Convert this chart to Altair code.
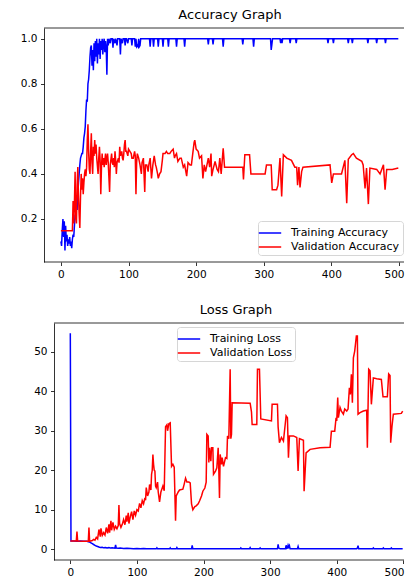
import altair as alt
import pandas as pd

# ---------------- data ----------------
x_ticks = [0, 100, 200, 300, 400, 500]
acc_ticks = [0.2, 0.4, 0.6, 0.8, 1.0]
loss_ticks = [0, 10, 20, 30, 40, 50]

train_acc = [
    (0, 0.10), (1, 0.08), (2, 0.15), (3, 0.20), (4, 0.12), (5, 0.19), (6, 0.06), (7, 0.17),
    (8, 0.10), (9, 0.13), (10, 0.08), (11, 0.11), (12, 0.09), (13, 0.12), (14, 0.08), (15, 0.10),
    (16, 0.07), (17, 0.11), (18, 0.13), (19, 0.12), (20, 0.17), (21, 0.22), (22, 0.20), (23, 0.27),
    (24, 0.24), (25, 0.31), (26, 0.36), (27, 0.40), (28, 0.44), (29, 0.47), (30, 0.48), (31, 0.49),
    (32, 0.49), (33, 0.52), (34, 0.56), (35, 0.58), (36, 0.61), (37, 0.68), (38, 0.73), (39, 0.72),
    (40, 0.80), (41, 0.82), (42, 0.86), (43, 0.92), (44, 0.96), (45, 0.97), (46, 0.88), (47, 0.95),
    (48, 0.86), (49, 0.98), (50, 0.90), (51, 0.99), (52, 0.92), (53, 1.00), (54, 0.89), (55, 0.98),
    (56, 0.93), (57, 1.00), (58, 0.91), (59, 0.99), (60, 0.95), (61, 1.00), (62, 0.93), (63, 0.98),
    (64, 1.00), (65, 0.94), (66, 0.99), (67, 0.96), (68, 0.84), (69, 1.00), (70, 0.97), (71, 1.00),
    (73, 0.98), (74, 1.00), (76, 1.00), (77, 0.96), (78, 1.00), (80, 0.98), (81, 1.00), (83, 0.97),
    (84, 1.00), (87, 1.00), (88, 0.93), (89, 1.00), (91, 0.98), (92, 1.00), (94, 1.00), (95, 0.97),
    (96, 1.00), (97, 1.00), (99, 0.98), (100, 1.00), (104, 1.00), (105, 0.97), (106, 1.00),
    (109, 1.00), (110, 0.965), (111, 1.00), (112, 0.965), (113, 0.97), (114, 0.965), (115, 1.00),
    (116, 0.965), (117, 0.97), (118, 1.00), (131, 1.00), (132, 0.965), (133, 1.00), (136, 1.00),
    (137, 0.965), (138, 1.00), (143, 1.00), (144, 0.965), (145, 1.00), (150, 1.00), (151, 0.965),
    (152, 1.00), (158, 1.00), (159, 0.965), (160, 1.00), (170, 1.00), (171, 0.965), (172, 1.00),
    (182, 1.00), (183, 0.965), (184, 1.00), (217, 1.00), (218, 0.975), (219, 1.00), (224, 1.00),
    (225, 0.975), (226, 1.00), (239, 1.00), (240, 0.965), (241, 1.00), (268, 1.00), (269, 0.975),
    (270, 1.00), (284, 1.00), (285, 0.965), (286, 1.00), (310, 1.00), (311, 0.95), (312, 0.975),
    (313, 1.00), (324, 1.00), (325, 0.98), (326, 1.00), (327, 0.98), (328, 1.00), (338, 1.00),
    (339, 0.98), (340, 1.00), (347, 1.00), (348, 0.98), (349, 1.00), (394, 1.00), (395, 0.98),
    (396, 1.00), (402, 1.00), (403, 0.98), (404, 1.00), (424, 1.00), (425, 0.98), (426, 1.00),
    (430, 1.00), (431, 0.98), (432, 1.00), (453, 1.00), (454, 0.98), (455, 1.00), (466, 1.00),
    (467, 0.98), (468, 1.00), (479, 1.00), (480, 0.98), (481, 1.00), (499, 1.00),
]

val_acc = [
    (0, 0.148), (17, 0.148), (18, 0.28), (19, 0.18), (20, 0.27), (21, 0.41), (22, 0.20), (23, 0.18),
    (24, 0.35), (25, 0.43), (26, 0.30), (27, 0.22), (28, 0.16), (29, 0.30), (30, 0.40), (31, 0.33),
    (32, 0.38), (33, 0.31), (34, 0.36), (35, 0.40), (36, 0.42), (37, 0.39), (38, 0.43), (39, 0.55),
    (40, 0.62), (41, 0.50), (42, 0.42), (43, 0.40), (44, 0.50), (45, 0.58), (46, 0.45), (47, 0.40),
    (48, 0.52), (49, 0.48), (50, 0.55), (51, 0.49), (52, 0.53), (53, 0.47), (55, 0.40), (56, 0.47),
    (57, 0.52), (58, 0.46), (59, 0.31), (60, 0.43), (61, 0.49), (62, 0.44), (63, 0.47), (64, 0.43),
    (65, 0.46), (66, 0.49), (67, 0.44), (68, 0.47), (69, 0.49), (70, 0.45), (72, 0.32), (73, 0.44),
    (75, 0.49), (76, 0.45), (77, 0.44), (78, 0.47), (79, 0.43), (80, 0.50), (81, 0.46), (82, 0.40),
    (83, 0.45), (85, 0.47), (86, 0.45), (87, 0.52), (88, 0.48), (90, 0.50), (91, 0.47), (92, 0.46),
    (93, 0.49), (94, 0.53), (95, 0.55), (96, 0.50), (97, 0.50), (99, 0.48), (100, 0.51), (102, 0.50),
    (104, 0.49), (105, 0.47), (107, 0.47), (109, 0.50), (110, 0.48), (111, 0.31), (112, 0.45),
    (113, 0.49), (115, 0.47), (117, 0.44), (119, 0.40), (120, 0.45), (122, 0.47), (124, 0.32),
    (125, 0.44), (127, 0.44), (129, 0.41), (130, 0.44), (132, 0.47), (134, 0.38), (136, 0.44),
    (138, 0.48), (140, 0.44), (141, 0.43), (143, 0.40), (144, 0.38), (146, 0.40), (148, 0.41),
    (150, 0.46), (151, 0.49), (154, 0.49), (156, 0.50), (158, 0.49), (161, 0.49), (163, 0.50),
    (166, 0.51), (168, 0.47), (169, 0.48), (171, 0.49), (173, 0.455), (176, 0.47), (178, 0.47),
    (181, 0.43), (183, 0.44), (186, 0.39), (188, 0.45), (191, 0.44), (193, 0.44), (195, 0.49),
    (197, 0.54), (198, 0.55), (200, 0.51), (203, 0.50), (205, 0.47), (208, 0.48), (210, 0.38),
    (212, 0.44), (214, 0.41), (216, 0.44), (218, 0.47), (220, 0.43), (222, 0.49), (223, 0.39),
    (225, 0.42), (228, 0.455), (231, 0.42), (233, 0.41), (235, 0.47), (237, 0.40), (240, 0.514),
    (242, 0.43), (269, 0.43), (270, 0.375), (272, 0.485), (279, 0.485), (281, 0.40), (302, 0.40),
    (304, 0.44), (311, 0.44), (312.5, 0.33), (319, 0.33), (321, 0.35), (324, 0.47), (326.5, 0.30),
    (329, 0.485), (334, 0.47), (341, 0.46), (346, 0.43), (348.7, 0.43), (350, 0.35), (352, 0.43),
    (353.6, 0.34), (356, 0.41), (358, 0.43), (398, 0.44), (400.5, 0.36), (403, 0.40), (415, 0.40),
    (420, 0.46), (422.7, 0.27), (425, 0.465), (430, 0.485), (432.5, 0.49), (437, 0.47), (445, 0.456),
    (447, 0.44), (449.8, 0.335), (452, 0.426), (454.7, 0.266), (457, 0.426), (467, 0.42), (472, 0.40),
    (477, 0.44), (479.4, 0.33), (481.8, 0.42), (490, 0.42), (499, 0.426),
]

train_loss = [
    (0, 54.7), (1, 2.1), (5, 2.1), (10, 2.0), (15, 2.1), (20, 2.0), (25, 2.0), (27, 1.9), (29, 1.8),
    (31, 1.6), (33, 1.4), (35, 1.2), (37, 1.0), (39, 0.8), (41, 0.7), (43, 0.55), (45, 0.45),
    (48, 0.5), (50, 0.35), (53, 0.45), (55, 0.3), (58, 0.4), (60, 0.3), (63, 0.35), (65, 0.3),
    (67, 0.25), (68, 1.1), (69, 0.3), (72, 0.25), (75, 0.3), (80, 0.2), (85, 0.25), (90, 0.2),
    (95, 0.15), (100, 0.2), (105, 0.15), (110, 0.2), (115, 0.15), (120, 0.1), (125, 0.15),
    (129, 0.1), (130, 0.35), (131, 0.1), (140, 0.1), (149, 0.1), (150, 0.35), (151, 0.1),
    (159, 0.1), (160, 0.4), (161, 0.1), (170, 0.1), (182, 0.1), (183, 1.0), (184, 0.1), (190, 0.1),
    (200, 0.1), (220, 0.1), (240, 0.1), (255, 0.1), (256, 0.3), (257, 0.1), (269, 0.1), (270, 0.4),
    (271, 0.1), (284, 0.1), (285, 0.3), (286, 0.1), (300, 0.1), (311, 0.1), (312, 1.2), (313, 0.3),
    (315, 0.1), (323, 0.1), (324, 1.0), (325, 0.2), (326, 0.3), (327, 1.0), (328, 0.5), (329, 0.9),
    (330, 0.1), (341, 0.1), (342, 0.7), (343, 0.1), (360, 0.1), (380, 0.1), (400, 0.1), (420, 0.1),
    (430, 0.1), (431, 0.3), (432, 0.9), (433, 0.1), (440, 0.1), (454, 0.1), (455, 0.3), (456, 0.1),
    (469, 0.1), (470, 0.3), (471, 0.1), (481, 0.1), (482, 0.3), (483, 0.1), (499, 0.1),
]

val_loss = [
    (0, 2.1), (9, 2.1), (10, 4.5), (11, 2.1), (20, 2.0), (27, 2.0), (28, 5.5), (29, 2.0), (33, 2.2),
    (35, 2.5), (37, 2.3), (39, 3.0), (41, 2.6), (43, 5.0), (45, 3.2), (46, 5.3), (48, 3.5), (50, 4.2),
    (52, 3.6), (54, 5.5), (56, 4.0), (58, 6.3), (59, 4.2), (61, 7.2), (62, 4.8), (64, 6.8), (66, 5.0),
    (68, 5.8), (70, 5.2), (72, 6.0), (73, 11.2), (74, 6.5), (76, 5.5), (78, 6.3), (80, 7.5), (82, 6.2),
    (84, 8.5), (85, 7.0), (87, 9.2), (88, 6.5), (90, 8.2), (92, 9.5), (94, 7.5), (96, 9.7), (98, 8.6),
    (100, 10.0), (102, 9.7), (104, 11.6), (106, 10.5), (108, 12.3), (110, 11.5), (112, 13.0),
    (113, 12.4), (114, 15.6), (116, 13.5), (118, 14.5), (119, 16.4), (121, 15.0), (122, 19.0),
    (123, 20.0), (124, 24.0), (125, 21.5), (126, 20.0), (127, 19.8), (128, 16.0), (129, 15.6),
    (131, 17.0), (132, 14.5), (134, 12.0), (136, 14.5), (137, 15.0), (139, 16.0), (141, 14.8),
    (143, 31.0), (145, 31.5), (146, 30.0), (148, 31.8), (150, 32.0), (152, 21.0), (154, 21.5),
    (156, 20.8), (158, 7.2), (159, 13.5), (162, 14.5), (164, 15.0), (169, 15.2), (171, 16.5),
    (173, 18.0), (175, 17.0), (178, 17.0), (180, 16.8), (182, 11.5), (184, 10.0), (187, 10.8),
    (189, 11.0), (192, 11.5), (194, 12.2), (197, 13.5), (199, 14.7), (202, 15.5), (204, 17.0),
    (205, 29.1), (207, 28.7), (208, 22.0), (209, 25.7), (211, 22.3), (212, 25.7), (214, 25.7),
    (215, 19.0), (218, 19.8), (220, 20.6), (222, 25.7), (223, 19.8), (224, 13.0), (225, 24.0),
    (227, 21.5), (228, 23.2), (230, 21.0), (233, 23.2), (235, 23.0), (236, 28.7), (238, 28.0),
    (240, 45.6), (241, 28.0), (242, 29.1), (243, 37.1), (270, 37.0), (272, 34.8), (273, 31.6),
    (280, 31.6), (281, 45.6), (284, 45.6), (286, 33.0), (302, 32.5), (303, 36.7), (311, 36.7),
    (312, 31.0), (314, 27.0), (317, 28.3), (320, 27.4), (324, 33.8), (326, 33.3), (327.5, 23.2),
    (329, 28.7), (335, 28.7), (340, 28.3), (342, 19.8), (344, 28.0), (350, 27.6), (351, 14.7),
    (354, 24.4), (360, 25.3), (375, 25.7), (390, 25.8), (392, 29.9), (397, 29.9), (399, 33.3),
    (400, 32.5), (401.5, 38.4), (402.5, 33.3), (405, 35.9), (407, 35.0), (410, 34.2), (412, 35.5),
    (415, 35.0), (417, 35.5), (419, 40.9), (420.5, 39.2), (422, 44.3), (423.5, 37.1), (425, 48.5),
    (427, 50.2), (429.5, 54.0), (431, 54.0), (432, 34.2), (435, 34.6), (440, 35.0), (445, 35.2),
    (446, 25.7), (448, 45.6), (450, 45.2), (452, 36.7), (455, 43.4), (460, 43.2), (467, 43.0),
    (469.5, 38.6), (476, 38.6), (478, 44.4), (480, 44.0), (481, 27.0), (483, 31.2), (485, 34.2),
    (497, 34.4), (499, 35.0),
]

acc_names = ["Training Accuracy", "Validation Accuracy"]
loss_names = ["Training Loss", "Validation Loss"]
line_colors = ["#0000ff", "#ff0000"]


def to_frame(pairs, name):
    return pd.DataFrame({"epoch": [p[0] for p in pairs], "value": [p[1] for p in pairs], "series": name})


acc_df = pd.concat([to_frame(train_acc, acc_names[0]), to_frame(val_acc, acc_names[1])])
loss_df = pd.concat([to_frame(train_loss, loss_names[0]), to_frame(val_loss, loss_names[1])])

FONT = "DejaVu Sans"


def legend(x, y):
    return alt.Legend(
        title=None, orient="none", legendX=x, legendY=y,
        symbolType="M-1.4,0H1.4", symbolSize=256, symbolStrokeWidth=1.5,
        labelFont=FONT, labelFontSize=11, labelColor="#000000", labelOffset=12,
        strokeColor="#d6d6d6", fillColor="#ffffff", cornerRadius=3,
        padding=3, rowPadding=0,
    )


def panel(df, names, title, xdom, frame_left, ydom, yticks, yfmt, w, h, yoffset, flush_off, leg, dx):
    """frame_left: x value where the left spine (y axis) sits."""
    xs = alt.Scale(domain=xdom, nice=False, zero=False)
    ys = alt.Scale(domain=ydom, nice=False, zero=False)
    yaxis = alt.Axis(values=yticks, title=None, format=yfmt, minExtent=36, maxExtent=36, offset=yoffset)
    xaxis = alt.Axis(values=x_ticks, title=None, format="d", domain=False,
                     labelFlush=8, labelFlushOffset=flush_off)
    lines = alt.Chart(df).mark_line(strokeWidth=1.5, clip=True).encode(
        x=alt.X("epoch:Q", scale=xs, axis=xaxis),
        y=alt.Y("value:Q", scale=ys, axis=yaxis),
        color=alt.Color("series:N", scale=alt.Scale(domain=names, range=line_colors), legend=leg),
    )
    # top and bottom spines of the frame, along the edges of the y domain
    spines = alt.Chart(pd.DataFrame({"value": [ydom[0], ydom[1]]})).mark_rule(
        color="#000000", strokeWidth=0.8
    ).encode(
        y=alt.Y("value:Q", scale=ys, axis=yaxis),
        x=alt.datum(frame_left), x2=alt.datum(xdom[1]),
    )
    return alt.layer(lines, spines).properties(
        width=w, height=h,
        title=alt.TitleParams(title, font=FONT, fontSize=13, fontWeight="normal", color="#000000",
                              offset=6, anchor="middle", dx=dx),
    )


top = panel(acc_df, acc_names, "Accuracy Graph", [-25, 507.4], -25, [0.009, 1.0475], acc_ticks, ".1f",
            360, 234, 0, 5, legend(214, 193), 6)
bottom = panel(loss_df, loss_names, "Loss Graph", [-39.5, 501], -24.5, [-2.73, 57.3], loss_ticks, "d",
               360, 237, -10, 0.7, legend(133, 4), 12)

chart = alt.vconcat(top, bottom, spacing=23).resolve_scale(color="independent").properties(
    padding=0
).configure_view(stroke=None).configure_axis(
    grid=False, domainColor="#000000", domainWidth=0.8, tickColor="#000000", tickWidth=0.8,
    tickSize=3.5, labelPadding=3.5, labelFont=FONT, labelFontSize=10.5, labelColor="#000000",
)

chart.save("out.html", embed_options={"renderer": "svg", "actions": False})
